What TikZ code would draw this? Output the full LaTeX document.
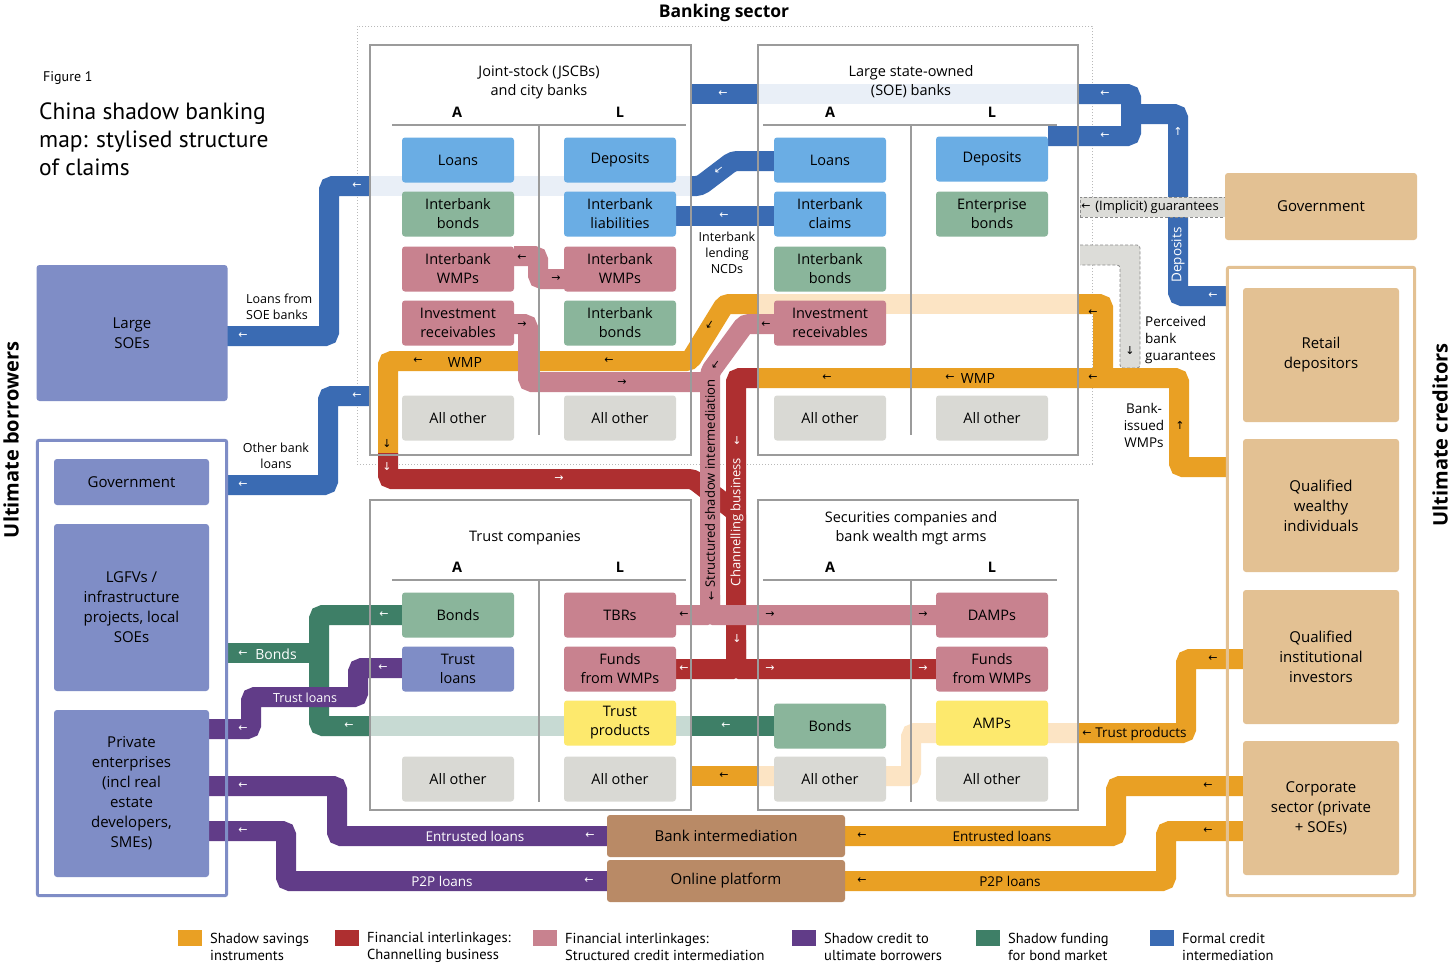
\documentclass[tikz,border=0pt]{standalone}
\usepackage{fontspec}
\setmainfont{Open Sans}
\newfontfamily\arrf{DejaVu Sans}
\newfontfamily\ptsans{PT Sans}
\newcommand\myfs[2]{\fontsize{#1}{#2}\selectfont}
\definecolor{cblue}{HTML}{3A6BB3}
\definecolor{cbluebox}{HTML}{6AADE4}
\definecolor{cbluefaint}{HTML}{E9EFF7}
\definecolor{corange}{HTML}{E9A024}
\definecolor{corangefaint}{HTML}{FCE4C4}
\definecolor{cred}{HTML}{AE2F30}
\definecolor{cpink}{HTML}{C8828F}
\definecolor{cpurple}{HTML}{613C88}
\definecolor{cgreen}{HTML}{3E7F67}
\definecolor{cgreenbox}{HTML}{8AB59B}
\definecolor{cgreenfaint}{HTML}{C7DAD3}
\definecolor{cgraybox}{HTML}{D9D9D4}
\definecolor{cyellow}{HTML}{FDE96D}
\definecolor{cborrow}{HTML}{7F8DC6}
\definecolor{ctan}{HTML}{E3C193}
\definecolor{cbrown}{HTML}{B98A66}
\definecolor{cpanel}{HTML}{9B9B9B}
\definecolor{cdash}{HTML}{DCDCD8}
\definecolor{cdashline}{HTML}{8A8A8A}
\begin{document}
\begin{tikzpicture}[x=1pt,y=-1pt,every node/.style={inner sep=0pt}]
\tikzset{
 box/.style={rounded corners=3pt, minimum width=112pt, minimum height=45pt, inner sep=0pt, align=center, font=\myfs{14.5}{19}},
 bigbox/.style={rounded corners=3pt, inner sep=0pt, align=center, font=\myfs{15}{20}},
 band/.style={line width=20pt, rounded corners=4pt},
 sband/.style={line width=20pt},
 arw/.style={font=\arrf\myfs{11}{11}, inner sep=0pt},
 warw/.style={arw, text=white},
 barw/.style={arw, text=black},
 lbl/.style={font=\myfs{12.5}{16}, align=center},
 flbl/.style={font=\myfs{13.5}{17}, align=center},
 ptitle/.style={font=\myfs{14.5}{19}, align=center},
 alhead/.style={font=\bfseries\myfs{14.5}{17}},
 panelfill/.style={fill=white, draw=none},
 panelline/.style={draw=cpanel, line width=2.5pt},
 dashband/.style={fill=cdash, draw=cdashline, line width=0.8pt, dash pattern=on 3pt off 2pt},
 legsq/.style={minimum width=24pt, minimum height=16pt, inner sep=0pt},
 legtx/.style={font=\ptsans\myfs{14.5}{17}, align=left, anchor=west},
}
\useasboundingbox (0,0) rectangle (1456,970);
\fill[white] (0,0) rectangle (1456,970);

% ---------------- banking sector dotted frame
\node[draw=gray!55, line width=1pt, dotted, minimum width=735pt, minimum height=438pt] (bank) at (724.5,245) {};
\node[font=\bfseries\myfs{17.5}{20}] (banktitle) at (724,13) {Banking sector};

% ---------------- panels (fill)
\node[panelfill, minimum width=321pt, minimum height=410pt] (jscb) at (530.5,250) {};
\node[panelfill, minimum width=320pt, minimum height=410pt] (soe) at (918,250) {};
\node[panelfill, minimum width=321pt, minimum height=310pt] (trust) at (530.5,655) {};
\node[panelfill, minimum width=320pt, minimum height=310pt] (sec) at (918,655) {};
\node[panelfill, minimum width=189pt, minimum height=455pt] (borr) at (132,668) {};
\node[panelfill, minimum width=187pt, minimum height=628pt] (credo) at (1321,581.5) {};

% ---------------- faint bands
\draw[sband, cbluefaint] (758,94) -- (1078,94);
\draw[sband, cbluefaint] (370,186) -- (692,186);
\draw[sband, corangefaint] (758,304) -- (1078,304);
\draw[sband, cgreenfaint] (370,726) -- (691,726);
\draw[band, corangefaint] (1078,733) -- (911,733) -- (911,776) -- (758,776);

% perceived guarantees (dashed grey)
\filldraw[dashband, rounded corners=3pt] (1080,245) -- (1140,245) -- (1140,368) -- (1120,368) -- (1120,265) -- (1080,265);

% ---------------- blue bands
\draw[band, cblue] (774,161) -- (733,161) -- (700,186) -- (692,186);
\draw[band, cblue] (370,186) -- (329,186) -- (329,336) -- (227,336);
\draw[sband, cblue] (774,216) -- (676,216);
\draw[band, cblue] (370,396) -- (328,396) -- (328,485) -- (227,485);
\draw[sband, cblue] (692,94) -- (758,94);
\draw[band, cblue] (1078,94) -- (1131,94) -- (1131,136) -- (1048,136);
\draw[band, cblue] (1226,296) -- (1178,296) -- (1178,114) -- (1131,114);

% implicit guarantees (dashed grey, over blue)
\node[dashband, minimum width=146pt, minimum height=20pt] (impl) at (1153,207) {};

% ---------------- orange bands
\draw[band, corange] (1226,467) -- (1179,467) -- (1179,378) -- (758,378);
\draw[band, corange] (1078,304) -- (1103,304) -- (1103,378);
\draw[band, corange] (758,304) -- (725,304) -- (690,361) -- (388,361) -- (388,455);
\draw[band, corange] (1243,659) -- (1186,659) -- (1186,733) -- (1078,733);
\draw[sband, corange] (758,776) -- (691,776);
\draw[band, corange] (1243,786) -- (1116,786) -- (1116,836) -- (845,836);
\draw[band, corange] (1243,831) -- (1166,831) -- (1166,881) -- (845,881);

% ---------------- red bands
\draw[band, cred] (758,378) -- (736,378) -- (736,669) -- (676,669);
\draw[band, cred] (736,640) -- (736,669) -- (936,669);
\draw[band, cred] (388,453) -- (388,479) -- (693,479) -- (736,512) -- (736,540);

% ---------------- green bands
\draw[band, cgreen] (402,615) -- (319,615) -- (319,726) -- (370,726);
\draw[sband, cgreen] (319,653) -- (227,653);
\draw[sband, cgreen] (691,726) -- (774,726);

% ---------------- pink bands
\draw[band, cpink] (514,256) -- (538,256) -- (538,279) -- (564,279);
\draw[band, cpink] (514,324) -- (528,324) -- (528,382) -- (712,382);
\draw[band, cpink] (774,324) -- (745,324) -- (710,372) -- (710,615) -- (676,615);
\draw[band, cpink] (710,595) -- (710,615) -- (936,615);

% ---------------- purple bands
\draw[band, cpurple] (402,668) -- (358,668) -- (358,697) -- (251,697) -- (251,729) -- (209,729);
\draw[band, cpurple] (607,836) -- (337,836) -- (337,786) -- (209,786);
\draw[band, cpurple] (607,881) -- (286,881) -- (286,831) -- (209,831);

% ---------------- panel borders and dividers
\draw[panelline] (jscb.north west) rectangle (jscb.south east);
\draw[panelline] (soe.north west) rectangle (soe.south east);
\draw[panelline] (trust.north west) rectangle (trust.south east);
\draw[panelline] (sec.north west) rectangle (sec.south east);
\draw[panelline] (392,125) -- (686,125) (539,125) -- (539,435);
\draw[panelline] (763,125) -- (1057,125) (911,125) -- (911,435);
\draw[panelline] (392,580) -- (686,580) (539,580) -- (539,802);
\draw[panelline] (763,580) -- (1057,580) (911,580) -- (911,802);
\draw[draw=cborrow, line width=3pt, rounded corners=2pt] (borr.north west) rectangle (borr.south east);
\draw[draw=ctan, line width=3pt, rounded corners=2pt] (credo.north west) rectangle (credo.south east);

% ---------------- panel titles
\node[ptitle] (jt) at (539,82) {Joint-stock (JSCBs)\\and city banks};
\node[ptitle] (st) at (911,82) {Large state-owned\\(SOE) banks};
\node[ptitle] (tt) at (525,538) {Trust companies};
\node[ptitle] (ct) at (911,528) {Securities companies and\\bank wealth mgt arms};
\node[alhead] (jA) at (457,112) {A};
\node[alhead] (jL) at (620,112) {L};
\node[alhead] (sA) at (830,112) {A};
\node[alhead] (sL) at (992,112) {L};
\node[alhead] (tA) at (457,567) {A};
\node[alhead] (tL) at (620,567) {L};
\node[alhead] (cA) at (830,567) {A};
\node[alhead] (cL) at (992,567) {L};

% ---------------- JSCB boxes
\node[box, fill=cbluebox] (jLoans) at (458,160) {Loans};
\node[box, fill=cgreenbox] (jIBB) at (458,214) {Interbank\\bonds};
\node[box, fill=cpink] (jIWMP) at (458,269) {Interbank\\WMPs};
\node[box, fill=cpink] (jIR) at (458,323) {Investment\\receivables};
\node[box, fill=cgraybox] (jAOa) at (458,418) {All other};
\node[box, fill=cbluebox] (jDep) at (620,160) {Deposits};
\node[box, fill=cbluebox] (jIBL) at (620,214) {Interbank\\liabilities};
\node[box, fill=cpink] (jIWMPl) at (620,269) {Interbank\\WMPs};
\node[box, fill=cgreenbox] (jIBBl) at (620,323) {Interbank\\bonds};
\node[box, fill=cgraybox] (jAOl) at (620,418) {All other};

% ---------------- SOE boxes
\node[box, fill=cbluebox] (sLoans) at (830,160) {Loans};
\node[box, fill=cbluebox] (sIBC) at (830,214) {Interbank\\claims};
\node[box, fill=cgreenbox] (sIBB) at (830,269) {Interbank\\bonds};
\node[box, fill=cpink] (sIR) at (830,323) {Investment\\receivables};
\node[box, fill=cgraybox] (sAOa) at (830,418) {All other};
\node[box, fill=cbluebox] (sDep) at (992,159) {Deposits};
\node[box, fill=cgreenbox] (sEB) at (992,214) {Enterprise\\bonds};
\node[box, fill=cgraybox] (sAOl) at (992,418) {All other};

% ---------------- Trust boxes
\node[box, fill=cgreenbox] (tBonds) at (458,615) {Bonds};
\node[box, fill=cborrow] (tLoans) at (458,669) {Trust\\loans};
\node[box, fill=cgraybox] (tAOa) at (458,779) {All other};
\node[box, fill=cpink] (tTBR) at (620,615) {TBRs};
\node[box, fill=cpink] (tFW) at (620,669) {Funds\\from WMPs};
\node[box, fill=cyellow] (tTP) at (620,723) {Trust\\products};
\node[box, fill=cgraybox] (tAOl) at (620,779) {All other};

% ---------------- Securities boxes
\node[box, fill=cgreenbox] (cBonds) at (830,726) {Bonds};
\node[box, fill=cgraybox] (cAOa) at (830,779) {All other};
\node[box, fill=cpink] (cDAMP) at (992,615) {DAMPs};
\node[box, fill=cpink] (cFW) at (992,669) {Funds\\from WMPs};
\node[box, fill=cyellow] (cAMP) at (992,723) {AMPs};
\node[box, fill=cgraybox] (cAOl) at (992,779) {All other};

% ---------------- borrowers
\node[bigbox, fill=cborrow, minimum width=191pt, minimum height=136pt] (lsoe) at (132,333) {Large\\SOEs};
\node[bigbox, fill=cborrow, minimum width=155pt, minimum height=46pt] (bGov) at (131.5,482) {Government};
\node[bigbox, fill=cborrow, minimum width=155pt, minimum height=167pt] (bLGFV) at (131.5,607.5) {LGFVs /\\infrastructure\\projects, local\\SOEs};
\node[bigbox, fill=cborrow, minimum width=155pt, minimum height=167pt] (bPriv) at (131.5,793.5) {Private\\enterprises\\(incl real\\estate\\developers,\\SMEs)};
\node[rotate=90, font=\bfseries\myfs{20}{22}] (ub) at (11,440) {Ultimate borrowers};

% ---------------- creditors
\node[bigbox, fill=ctan, minimum width=192pt, minimum height=67pt] (cGov) at (1321,206.5) {Government};
\node[bigbox, fill=ctan, minimum width=156pt, minimum height=134pt] (rRet) at (1321,355) {Retail\\depositors};
\node[bigbox, fill=ctan, minimum width=156pt, minimum height=133pt] (rQW) at (1321,505.5) {Qualified\\wealthy\\individuals};
\node[bigbox, fill=ctan, minimum width=156pt, minimum height=134pt] (rQI) at (1321,657) {Qualified\\institutional\\investors};
\node[bigbox, fill=ctan, minimum width=156pt, minimum height=134pt] (rCorp) at (1321,808) {Corporate\\sector (private\\+ SOEs)};
\node[rotate=90, font=\bfseries\myfs{20}{22}] (uc) at (1440,435) {Ultimate creditors};

% ---------------- intermediaries at bottom
\node[bigbox, fill=cbrown, minimum width=238pt, minimum height=42pt] (bi) at (726,836) {Bank intermediation};
\node[bigbox, fill=cbrown, minimum width=238pt, minimum height=42pt] (op) at (726,881) {Online platform};

% ---------------- flow labels
\node[lbl, align=left, anchor=west] (lfs) at (246,307) {Loans from\\SOE banks};
\node[lbl] (lob) at (276,456) {Other bank\\loans};
\node[lbl] (lib) at (727,253) {Interbank\\lending\\NCDs};
\node[font=\myfs{14}{16}, text=white] (lbonds) at (276,654) {Bonds};
\node[font=\myfs{12.5}{15}, text=white] (ltl) at (305,698) {Trust loans};
\node[flbl, text=white] (lel) at (475,836) {Entrusted loans};
\node[flbl, text=white] (lp2p) at (442,881) {P2P loans};
\node[flbl] (lel2) at (1002,836) {Entrusted loans};
\node[flbl] (lp2p2) at (1010,881) {P2P loans};
\node[flbl] (ltp) at (1141,734) {Trust products};
\node[font=\myfs{13}{15}] (lig) at (1157,207) {(Implicit) guarantees};
\node[flbl, text=white, rotate=90] (ldep) at (1178,255) {Deposits};
\node[flbl, align=left, anchor=west] (lpg) at (1145,340) {Perceived\\bank\\guarantees};
\node[flbl] (lbw) at (1144,425) {Bank-\\issued\\WMPs};
\node[font=\myfs{14}{16}] (lwmp1) at (978,378) {WMP};
\node[font=\myfs{14}{16}] (lwmp2) at (465,362) {WMP};
\node[font=\myfs{13}{15}, rotate=90] (lsi) at (710,490) {{\arrf\myfs{11}{11}←} Structured shadow intermediation};
\node[font=\myfs{13}{15}, rotate=90, text=white] (lcb) at (737,522) {Channelling business};

% ---------------- small arrows
\foreach \x/\y [count=\i] in {723/94, 1105/94, 1105/136, 1213/296, 724/216, 357/186, 243/336, 357/396, 243/485, 684/669, 384/615, 349/726, 726/726, 243/654, 383/668, 243/729, 590/836, 243/786, 589/881, 243/831}
  \node[warw] (wl\i) at (\x,\y) {←};
\foreach \x/\y [count=\i] in {559/479, 770/669, 923/669}
  \node[warw] (wr\i) at (\x,\y) {→};
\node[warw] (wu1) at (1178,131) {↑};
\foreach \x/\y [count=\i] in {387/466, 737/440, 737/638}
  \node[warw] (wd\i) at (\x,\y) {↓};
\node[warw, rotate=37] (wdl1) at (719,170) {←};
\foreach \x/\y [count=\i] in {1093/313, 1093/378, 827/378, 950/378, 418/361, 609/361, 766/325, 522/258, 684/615, 724/776, 1213/659, 1208/786, 1208/831, 862/836, 862/881, 1087/734, 1086/207}
  \node[barw] (bl\i) at (\x,\y) {←};
\foreach \x/\y [count=\i] in {556/279, 522/325, 622/383, 770/615, 923/615}
  \node[barw] (br\i) at (\x,\y) {→};
\foreach \x/\y [count=\i] in {1130/351, 387/443}
  \node[barw] (bd\i) at (\x,\y) {↓};
\node[barw] (bu1) at (1180,425) {↑};
\node[barw, rotate=58] (bdl1) at (710,325) {←};
\node[barw, rotate=54] (bdl2) at (716,365) {←};

% ---------------- title
\node[anchor=west, font=\ptsans\myfs{14}{16}] (fig) at (43,78) {Figure 1};
\node[anchor=west, align=left, font=\ptsans\myfs{23.5}{28}] (title) at (39,139) {China shadow banking\\map: stylised structure\\of claims};

% ---------------- legend
\node[legsq, fill=corange] (sq1) at (190,938) {};
\node[legtx] (lg1) at (210,947) {Shadow savings\\instruments};
\node[legsq, fill=cred] (sq2) at (347,938) {};
\node[legtx] (lg2) at (367,947) {Financial interlinkages:\\Channelling business};
\node[legsq, fill=cpink] (sq3) at (545,938) {};
\node[legtx] (lg3) at (565,947) {Financial interlinkages:\\Structured credit intermediation};
\node[legsq, fill=cpurple] (sq4) at (804,938) {};
\node[legtx] (lg4) at (824,947) {Shadow credit to\\ultimate borrowers};
\node[legsq, fill=cgreen] (sq5) at (988,938) {};
\node[legtx] (lg5) at (1008,947) {Shadow funding\\for bond market};
\node[legsq, fill=cblue] (sq6) at (1162,938) {};
\node[legtx] (lg6) at (1182,947) {Formal credit\\intermediation};
\end{tikzpicture}
\end{document}
